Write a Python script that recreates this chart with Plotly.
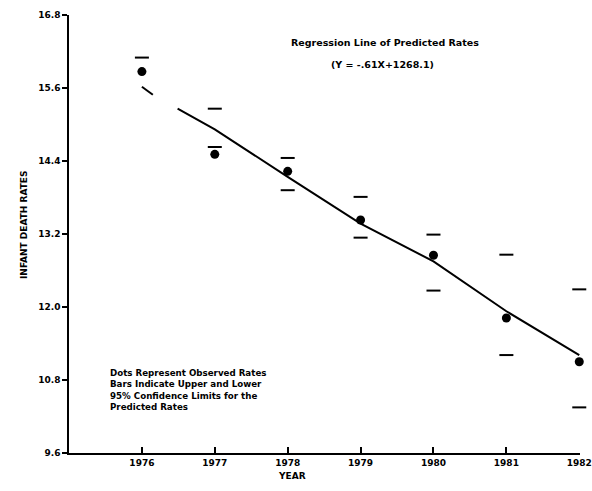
import plotly.graph_objects as go

years = [1976, 1977, 1978, 1979, 1980, 1981, 1982]
observed = [15.87, 14.51, 14.23, 13.43, 12.85, 11.82, 11.10]
upper_limit = [16.10, 15.26, 14.45, 13.81, 13.19, 12.86, 12.29]
lower_limit = [None, 14.63, 13.92, 13.14, 12.27, 11.21, 10.35]
line_x = [1976, 1976.15, None, 1976.49, 1977, 1978, 1979, 1980, 1981, 1982]
line_y = [15.62, 15.49, None, 15.26, 14.92, 14.14, 13.37, 12.75, 11.93, 11.21]
y_ticks = [16.8, 15.6, 14.4, 13.2, 12.0, 10.8, 9.6]
y_labels = ["16.8", "15.6", "14.4", "13.2", "12.0", "10.8", "9.6"]
x_labels = ["1976", "1977", "1978", "1979", "1980", "1981", "1982"]

FONT = "DejaVu Sans"
fig = go.Figure()
fig.add_trace(go.Scatter(x=line_x, y=line_y, mode="lines",
                         line=dict(color="black", width=2), connectgaps=False,
                         cliponaxis=False, showlegend=False))
fig.add_trace(go.Scatter(x=years, y=upper_limit, mode="markers",
                         marker=dict(symbol="line-ew", size=10, line=dict(color="black", width=2)),
                         cliponaxis=False, showlegend=False))
fig.add_trace(go.Scatter(x=years, y=lower_limit, mode="markers",
                         marker=dict(symbol="line-ew", size=10, line=dict(color="black", width=2)),
                         cliponaxis=False, showlegend=False))
fig.add_trace(go.Scatter(x=years, y=observed, mode="markers",
                         marker=dict(symbol="circle", size=9, color="black"),
                         cliponaxis=False, showlegend=False))

fig.update_layout(
    width=592, height=491,
    margin=dict(l=69, r=12, t=15, b=38),
    paper_bgcolor="white", plot_bgcolor="white",
    font=dict(family=FONT, color="black", size=9),
    xaxis=dict(range=[1975, 1982.01], tickvals=years, ticktext=x_labels,
               ticks="inside", ticklen=6, tickwidth=1.5, tickcolor="black",
               showline=True, linecolor="black", linewidth=1.5,
               showgrid=False, zeroline=False, automargin=False,
               tickfont=dict(family=FONT, size=9, weight="bold")),
    yaxis=dict(range=[9.6, 16.8], tickvals=y_ticks, ticktext=y_labels,
               ticks="outside", ticklen=5, tickwidth=1.5, tickcolor="black",
               showline=True, linecolor="black", linewidth=1.5,
               showgrid=False, zeroline=False, automargin=False,
               tickfont=dict(family=FONT, size=9, weight="bold")),
)

fig.add_annotation(text="Regression Line of Predicted Rates", xref="paper", yref="paper",
                   x=(385 - 69) / 511, y=1 - (35 - 15) / 438, showarrow=False,
                   font=dict(family=FONT, size=9.5, weight="bold"))
fig.add_annotation(text="(Y = -.61X+1268.1)", xref="paper", yref="paper",
                   x=(382 - 69) / 511, y=1 - (57 - 15) / 438, showarrow=False,
                   font=dict(family=FONT, size=9.5, weight="bold"))
fig.add_annotation(text="Dots Represent Observed Rates<br>Bars Indicate Upper and Lower<br>95% Confidence Limits for the<br>Predicted Rates",
                   xref="paper", yref="paper", x=(108 - 69) / 511, y=1 - (366 - 15) / 438,
                   xanchor="left", yanchor="top", align="left", showarrow=False,
                   font=dict(family=FONT, size=8.7, weight="bold"))
fig.add_annotation(text="INFANT DEATH RATES", xref="paper", yref="paper",
                   x=-(69 - 17) / 511, y=1 - (225 - 15) / 438, textangle=-90,
                   showarrow=False, font=dict(family=FONT, size=9, weight="bold"))
fig.add_annotation(text="YEAR", xref="paper", yref="paper",
                   x=(292 - 69) / 511, y=-(483 - 453) / 438, showarrow=False,
                   font=dict(family=FONT, size=9, weight="bold"))

fig.write_html("out.html")
